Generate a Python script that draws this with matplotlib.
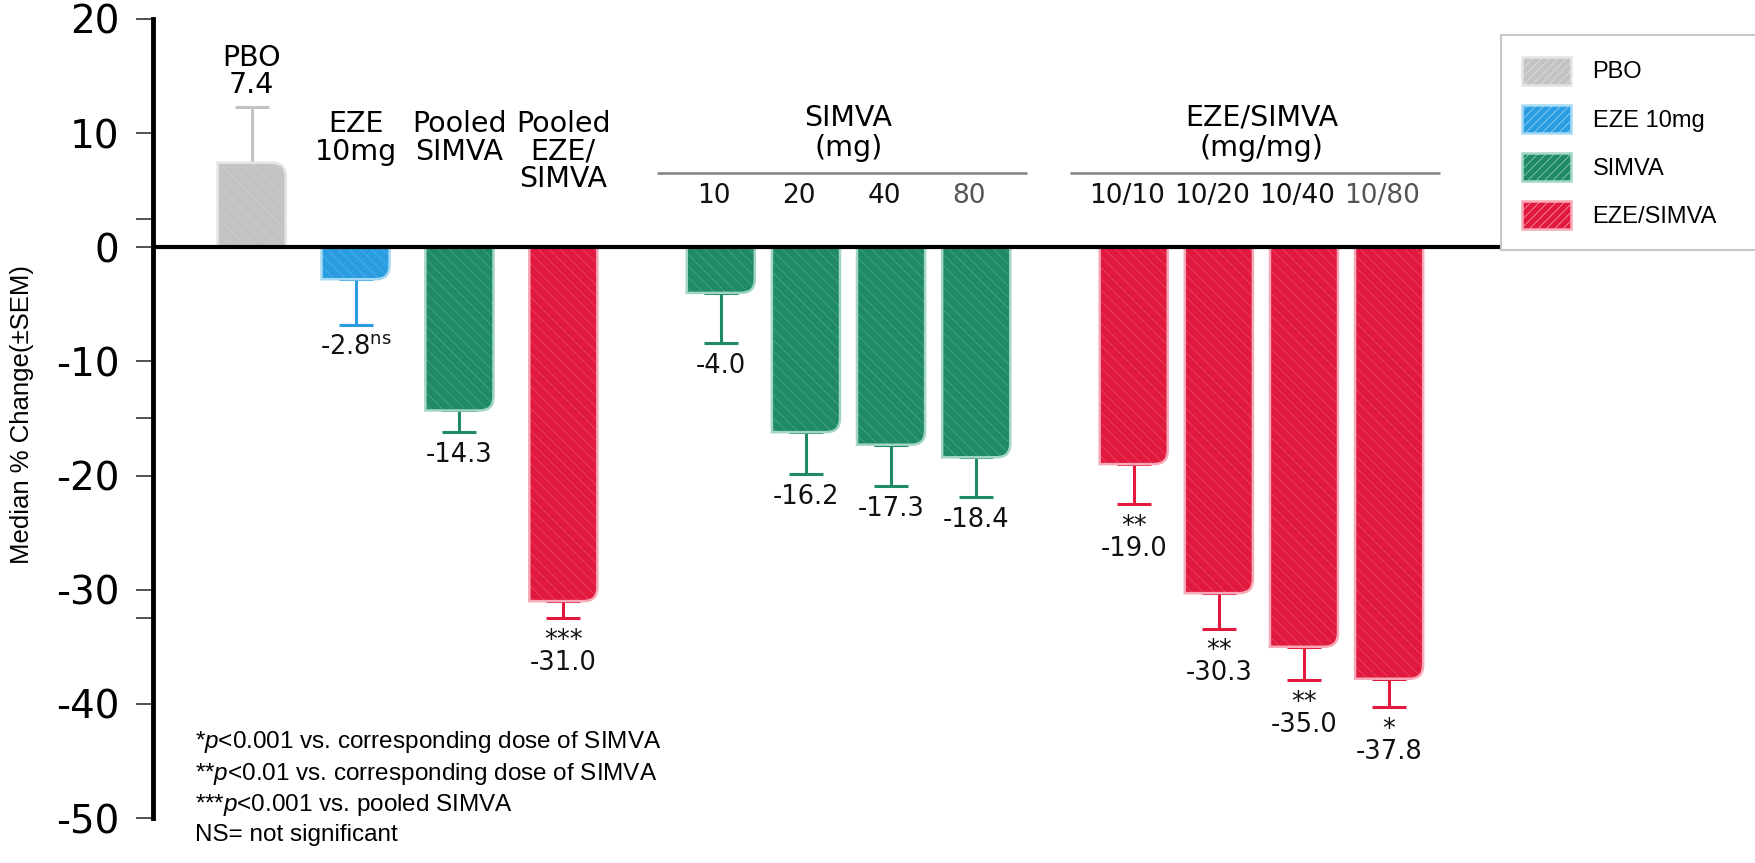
import numpy as np
import matplotlib
matplotlib.use('Agg')
import matplotlib.pyplot as plt
from matplotlib import font_manager
from matplotlib.path import Path
from matplotlib.patches import PathPatch, Patch
from matplotlib.colors import to_rgb

# values
overview_labels = ['PBO', 'EZE\n10mg', 'Pooled\nSIMVA', 'Pooled\nEZE/\nSIMVA']
overview_values = [7.4, -2.8, -14.3, -31.0]
overview_sem = [4.9, 4.0, 1.9, 1.5]
overview_sig = ['', 'ns', '', '***']

simva_doses = ['10', '20', '40', '80']
simva_values = [-4.0, -16.2, -17.3, -18.4]
simva_sem = [4.4, 3.7, 3.6, 3.5]
simva_sig = ['', '', '', '']

ezesimva_doses = ['10/10', '10/20', '10/40', '10/80']
ezesimva_values = [-19.0, -30.3, -35.0, -37.8]
ezesimva_sem = [3.5, 3.1, 2.9, 2.5]
ezesimva_sig = ['**', '**', '**', '*']

legend_labels = ['PBO', 'EZE 10mg', 'SIMVA', 'EZE/SIMVA']
yticks = [20, 10, 0, -10, -20, -30, -40, -50]
minor_yticks = [2.5, -15, -32.5]

footnotes = ['*$p$<0.001 vs. corresponding dose of SIMVA',
             '**$p$<0.01 vs. corresponding dose of SIMVA',
             '***$p$<0.001 vs. pooled SIMVA',
             'NS= not significant']

# colours: (face, light edge)
GRAY = ('#c3c3c3', '#e4e4e4')
BLUE = ('#2a9de0', '#a6d9f4')
GREEN = ('#1e8a68', '#a3d6c4')
RED = ('#e2193e', '#f6a9b7')

names = {f.name for f in font_manager.fontManager.ttflist}
narrow = 'Liberation Sans Narrow' if 'Liberation Sans Narrow' in names else 'Liberation Sans'

plt.rcParams['font.family'] = 'DejaVu Sans'
plt.rcParams['axes.unicode_minus'] = False
plt.rcParams['hatch.linewidth'] = 0.5
plt.rcParams['mathtext.fontset'] = 'custom'
plt.rcParams['mathtext.rm'] = 'DejaVu Sans'
plt.rcParams['mathtext.it'] = narrow + ':italic'

# layout of the bar positions
first_step, dose_step, group_gap = 1.22, 1.0, 1.85
x_over = np.arange(4) * first_step
x_simva = x_over[-1] + group_gap + np.arange(4) * dose_step
x_ezes = x_simva[-1] + group_gap + np.arange(4) * dose_step


def hatch_col(face, k=0.22):
    r, g, b = to_rgb(face)
    return (r + (1 - r) * k, g + (1 - g) * k, b + (1 - b) * k)


def round_corner(ax, rect, face, edge, rx=0.16, ry=1.2):
    # redraw a bar as a path with its outer right corner rounded
    x0, y0 = rect.get_xy()
    w, h = rect.get_width(), rect.get_height()
    s = np.sign(h)
    x1, y1 = x0 + w, y0 + h
    verts = [(x0, y0), (x1, y0), (x1, y1 - s * ry), (x1, y1), (x1 - rx, y1), (x0, y1), (x0, y0)]
    codes = [Path.MOVETO, Path.LINETO, Path.LINETO, Path.CURVE3, Path.CURVE3, Path.LINETO, Path.CLOSEPOLY]
    path = Path(verts, codes)
    ax.add_patch(PathPatch(path, facecolor=face, edgecolor=hatch_col(face), lw=0,
                           hatch='\\\\\\', zorder=3))
    ax.add_patch(PathPatch(path, fill=False, edgecolor=edge, lw=1.8, zorder=3.1))
    rect.remove()


def draw_bars(ax, xs, vals, sems, cols):
    for x, v, e, c in zip(xs, vals, sems, cols):
        lo, hi = (e, 0) if v < 0 else (0, e)
        ax.errorbar([x], [v], yerr=[[lo], [hi]], fmt='none', ecolor=c[0], elinewidth=2.2,
                    capsize=12, capthick=2.2, zorder=1)
        bars = ax.bar([x], [v], width=0.8, color=c[0], zorder=3)
        for r in bars.patches:
            round_corner(ax, r, c[0], c[1])


fig = plt.figure(figsize=(17.56, 8.63), dpi=100)
ax = fig.add_axes([0.0871, 0.0521, 0.767, 0.926])

draw_bars(ax, x_over, overview_values, overview_sem, [GRAY, BLUE, GREEN, RED])
draw_bars(ax, x_simva, simva_values, simva_sem, [GREEN] * 4)
draw_bars(ax, x_ezes, ezesimva_values, ezesimva_sem, [RED] * 4)

ax.axhline(0, color='black', lw=3, zorder=4)

ax.set_xlim(-1.16, 14.66)
ax.set_ylim(-50, 20)
for s in ['top', 'right', 'bottom']:
    ax.spines[s].set_visible(False)
ax.spines['left'].set_linewidth(3.5)
ax.spines['left'].set_zorder(5)
ax.set_xticks([])
ax.set_yticks(yticks)
ax.set_yticks(minor_yticks, minor=True)
ax.tick_params(axis='y', which='both', length=12, width=1.2, color='#333333', direction='out')
ax.tick_params(axis='y', which='major', labelsize=28, pad=12)
ax.set_ylabel('Median % Change(±SEM)', family=narrow, fontsize=18.5)
ax.yaxis.set_label_coords(-0.088, 0.505)

# labels above the first four bars
ax.text(x_over[0], 13.0, overview_labels[0] + '\n' + f'{overview_values[0]:.1f}',
        ha='center', va='bottom', fontsize=20.5, linespacing=0.95)
for x, lab in zip(x_over[1:], overview_labels[1:]):
    ax.text(x, 12.0, lab, ha='center', va='top', fontsize=20.5, linespacing=0.98)

# group headers for the dose groups
for xs, head, doses in [(x_simva, 'SIMVA\n(mg)', simva_doses), (x_ezes, 'EZE/SIMVA\n(mg/mg)', ezesimva_doses)]:
    ax.text(xs.mean(), 7.5, head, ha='center', va='bottom', fontsize=20.5, linespacing=1.08)
    ax.plot([xs[0] - 0.75, xs[-1] + 0.6], [6.5, 6.5], color='#808080', lw=1.8, solid_capstyle='butt')
    for i, (x, d) in enumerate(zip(xs, doses)):
        ax.text(x - 0.08, 4.5, d, ha='center', va='center', fontsize=19,
                color='#555555' if i == 3 else '#111111')

# value labels under the error bars
all_x = np.concatenate([x_over[1:], x_simva, x_ezes])
all_v = overview_values[1:] + simva_values + ezesimva_values
all_e = overview_sem[1:] + simva_sem + ezesimva_sem
all_s = overview_sig[1:] + simva_sig + ezesimva_sig
for x, v, e, s in zip(all_x, all_v, all_e, all_s):
    if s == 'ns':
        txt = f'{v:.1f}' + r'${}^{\mathrm{ns}}$'
    elif s:
        txt = s + '\n' + f'{v:.1f}'
    else:
        txt = f'{v:.1f}'
    ax.annotate(txt, (x, v - e), xytext=(0, -7), textcoords='offset points',
                ha='center', va='top', fontsize=18.5, linespacing=0.8, color='#111111')

# footnotes
fig.text(0.111, 1 - 729 / 863, '\n'.join(footnotes), ha='left', va='top', family=narrow,
         fontsize=17.5, linespacing=1.3)

# legend
handles = [Patch(facecolor=c[0], edgecolor=c[1], hatch='////', lw=1.8) for c in [GRAY, BLUE, GREEN, RED]]
leg = fig.legend(handles, legend_labels, loc='upper left', bbox_to_anchor=(0.8545, 0.02, 0.2, 0.939),
                 mode='expand', prop={'family': 'Liberation Sans', 'size': 17}, frameon=True,
                 fancybox=False, borderpad=0.9, labelspacing=0.85, handlelength=2.1,
                 handleheight=1.45, handletextpad=0.9, borderaxespad=0)
leg.get_frame().set_edgecolor('#bbbbbb')
leg.get_frame().set_linewidth(1.5)

fig.savefig('out.png', dpi=100)
